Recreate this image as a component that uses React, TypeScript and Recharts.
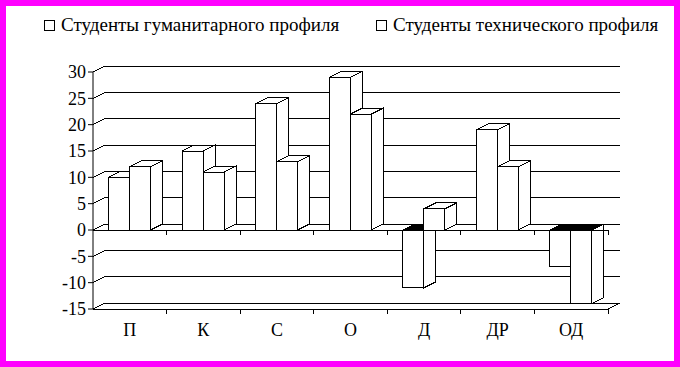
// Students survey chart: pseudo-3D clustered columns, Excel-style
import React from 'react';
import {
  BarChart,
  Bar,
  XAxis,
  YAxis,
  CartesianGrid,
  ReferenceLine,
  Legend,
} from 'recharts';

const categories = ['П', 'К', 'С', 'О', 'Д', 'ДР', 'ОД'];
const humanities = [10, 15, 24, 29, -11, 19, -7];
const technical = [12, 11, 13, 22, 4, 12, -14];
const yTicks = [-15, -10, -5, 0, 5, 10, 15, 20, 25, 30];

const seriesNames = ['Студенты гуманитарного профиля', 'Студенты технического профиля'];

const data = categories.map((cat, i) => ({
  cat,
  hum: humanities[i],
  tech: technical[i],
}));

const FONT = '"Liberation Serif", "Times New Roman", serif';
const DX = 12;
const DY = 6;

// front face + top + right side of a column
const Box3D = (props: any) => {
  const { x, y, width, height, value } = props;
  const v = Array.isArray(value) ? value[1] : value;
  const top = Math.min(y, y + height);
  const h = Math.abs(height);
  const bottom = top + h;
  const right = x + width;
  const neg = v < 0;
  return (
    <g stroke="#000" strokeWidth={1} shapeRendering="crispEdges">
      <polygon
        points={`${right},${top} ${right + DX},${top - DY} ${right + DX},${bottom - DY} ${right},${bottom}`}
        fill="#fff"
      />
      <polygon
        points={`${x},${top} ${right},${top} ${right + DX},${top - DY} ${x + DX},${top - DY}`}
        fill={neg ? '#000' : '#fff'}
      />
      <rect x={x} y={top} width={width} height={h} fill="#fff" />
    </g>
  );
};

// back-wall gridline with the slanted connector from the axis
const gridLine = (props: any) => {
  const { x1, x2, y1, index } = props;
  return (
    <g key={`g-${index}`} stroke="#000" strokeWidth={1} shapeRendering="crispEdges">
      <line x1={x1} y1={y1} x2={x1 + DX} y2={y1 - DY} />
      <line x1={x1 + DX} y1={y1 - DY} x2={x2 + DX} y2={y1 - DY} />
    </g>
  );
};

// front floor / zero line with ticks on category boundaries
const frontLine = (withSlant: boolean) => (props: any) => {
  const { x1, x2, y1 } = props;
  const step = (x2 - x1) / categories.length;
  return (
    <g stroke="#000" strokeWidth={1} shapeRendering="crispEdges">
      <line x1={x1} y1={y1} x2={x2} y2={y1} />
      {categories.map((c, i) => (
        <line key={c} x1={x1 + step * (i + 1)} y1={y1} x2={x1 + step * (i + 1)} y2={y1 + 5} />
      ))}
      {withSlant && <line x1={x2} y1={y1} x2={x2 + DX} y2={y1 - DY} />}
    </g>
  );
};

const legendOffsets = [44, 376];

const renderLegend = (props: any) => {
  const { payload } = props;
  return (
    <div style={{ position: 'relative', height: 24 }}>
      {(payload || []).map((entry: any, i: number) => (
        <div
          key={entry.value}
          style={{
            position: 'absolute',
            left: legendOffsets[i],
            top: 0,
            display: 'flex',
            alignItems: 'center',
            fontFamily: FONT,
            fontSize: 19,
            color: '#000',
            whiteSpace: 'nowrap',
          }}
        >
          <span
            style={{
              display: 'inline-block',
              width: 9,
              height: 9,
              border: '1px solid #000',
              background: '#fff',
              marginRight: 6,
            }}
          />
          {entry.value}
        </div>
      ))}
    </div>
  );
};

export default function App() {
  return (
    <div
      style={{
        position: 'fixed',
        top: 0,
        left: 0,
        width: 680,
        height: 367,
        background: '#fff',
        overflow: 'hidden',
      }}
    >
      <BarChart
        width={680}
        height={367}
        data={data}
        margin={{ top: 72, right: 72, bottom: 28, left: 0 }}
        barCategoryGap="21%"
        barGap={0}
      >
        <CartesianGrid horizontal={gridLine} vertical={false} />
        <XAxis
          dataKey="cat"
          height={30}
          axisLine={false}
          tickLine={false}
          tickSize={6}
          tickMargin={8}
          tick={{ fontFamily: FONT, fontSize: 18, fill: '#000' }}
        />
        <YAxis
          width={93}
          domain={[-15, 30]}
          ticks={yTicks}
          interval={0}
          axisLine={{ stroke: '#000' }}
          tickLine={{ stroke: '#000' }}
          tickSize={5}
          tickMargin={2}
          tick={{ fontFamily: FONT, fontSize: 18, fill: '#000' }}
        />
        <ReferenceLine y={-15} shape={frontLine(true)} />
        <ReferenceLine y={0} shape={frontLine(false)} />
        <Legend
          layout="horizontal"
          verticalAlign="middle"
          align="center"
          content={renderLegend}
          wrapperStyle={{ position: 'absolute', top: 14, left: 0, width: 680 }}
        />
        <Bar dataKey="hum" name={seriesNames[0]} shape={Box3D} isAnimationActive={false} />
        <Bar dataKey="tech" name={seriesNames[1]} shape={Box3D} isAnimationActive={false} />
      </BarChart>
      <div
        style={{
          position: 'absolute',
          inset: 0,
          border: '6px solid #FF00FF',
          pointerEvents: 'none',
        }}
      />
    </div>
  );
}
